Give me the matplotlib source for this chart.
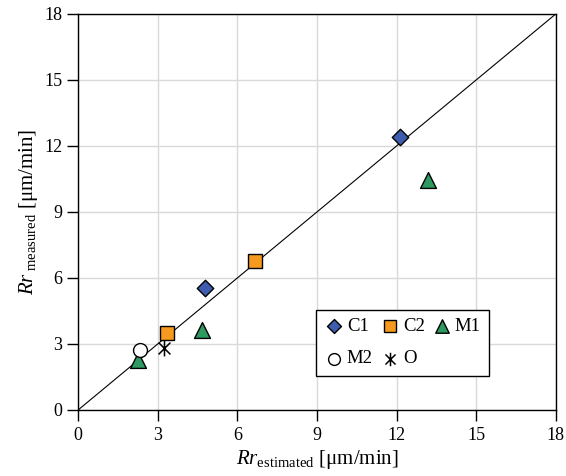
import matplotlib
matplotlib.use("Agg")
import matplotlib.pyplot as plt
from matplotlib.path import Path

plt.rcParams['font.family'] = ['Liberation Serif', 'DejaVu Serif']
plt.rcParams['mathtext.fontset'] = 'custom'
plt.rcParams['mathtext.rm'] = 'Liberation Serif'
plt.rcParams['mathtext.it'] = 'Liberation Serif:italic'

# estimated vs measured removal rate
c1_x = [4.8, 12.12]
c1_y = [5.55, 12.4]
c2_x = [3.35, 6.66]
c2_y = [3.5, 6.75]
m1_x = [2.25, 4.65, 13.2]
m1_y = [2.27, 3.65, 10.45]
m2_x = [2.33]
m2_y = [2.73]
o_x = [3.25]
o_y = [2.83]
ticks = [0, 3, 6, 9, 12, 15, 18]

# x with a vertical bar through it
star = Path([(0, -1), (0, 1), (-0.75, -0.75), (0.75, 0.75), (-0.75, 0.75), (0.75, -0.75)],
            [Path.MOVETO, Path.LINETO, Path.MOVETO, Path.LINETO, Path.MOVETO, Path.LINETO])

fig = plt.figure(figsize=(5.66, 4.76), dpi=100)
ax = fig.add_axes([0.138, 0.1387, 0.844, 0.832])

ax.plot([0, 18], [0, 18], color='black', lw=0.8, zorder=2)
h1 = ax.scatter(c1_x, c1_y, marker='D', s=70, c='#3F5DAE', edgecolors='black', linewidths=1, zorder=3, label='C1')
h2 = ax.scatter(c2_x, c2_y, marker='s', s=110, c='#F59A1E', edgecolors='black', linewidths=1, zorder=3, label='C2')
h3 = ax.scatter(m1_x, m1_y, marker='^', s=130, c='#2E9A62', edgecolors='black', linewidths=1, zorder=3, label='M1')
h4 = ax.scatter(m2_x, m2_y, marker='o', s=100, c='white', edgecolors='black', linewidths=1, zorder=3, label='M2')
h5 = ax.scatter(o_x, o_y, marker=star, s=130, c='black', linewidths=1.1, zorder=3, label='O')

ax.set_xlim(0, 18)
ax.set_ylim(0, 18)
ax.set_xticks(ticks)
ax.set_yticks(ticks)
ax.grid(True, color='#d9d9d9', lw=1)
ax.set_axisbelow(True)
ax.tick_params(direction='out', length=8, width=1, labelsize=13, color='black')
ax.tick_params(axis='x', pad=4)
for s in ax.spines.values():
    s.set_linewidth(1)

ax.set_xlabel(r'$\mathit{Rr}_{\mathrm{estimated}}$ [μm/min]', fontsize=15, labelpad=3)
ax.set_ylabel(r'$\mathit{Rr}_{\mathrm{\ measured}}$ [μm/min]', fontsize=15, labelpad=3)

# column-major order so rows read C1 C2 M1 / M2 O
hs = [h1, h4, h2, h5, h3]
leg = ax.legend(hs, [h.get_label() for h in hs], ncol=3, loc='lower left',
                bbox_to_anchor=(0.498, 0.086), borderaxespad=0, fontsize=13.5,
                frameon=True, fancybox=False, edgecolor='black', framealpha=1,
                handletextpad=0.2, columnspacing=0.4, labelspacing=0.8, borderpad=0.45,
                handlelength=1.0, scatterpoints=1, markerscale=0.85)
leg.get_frame().set_linewidth(1)

fig.savefig('out.png', dpi=100)
